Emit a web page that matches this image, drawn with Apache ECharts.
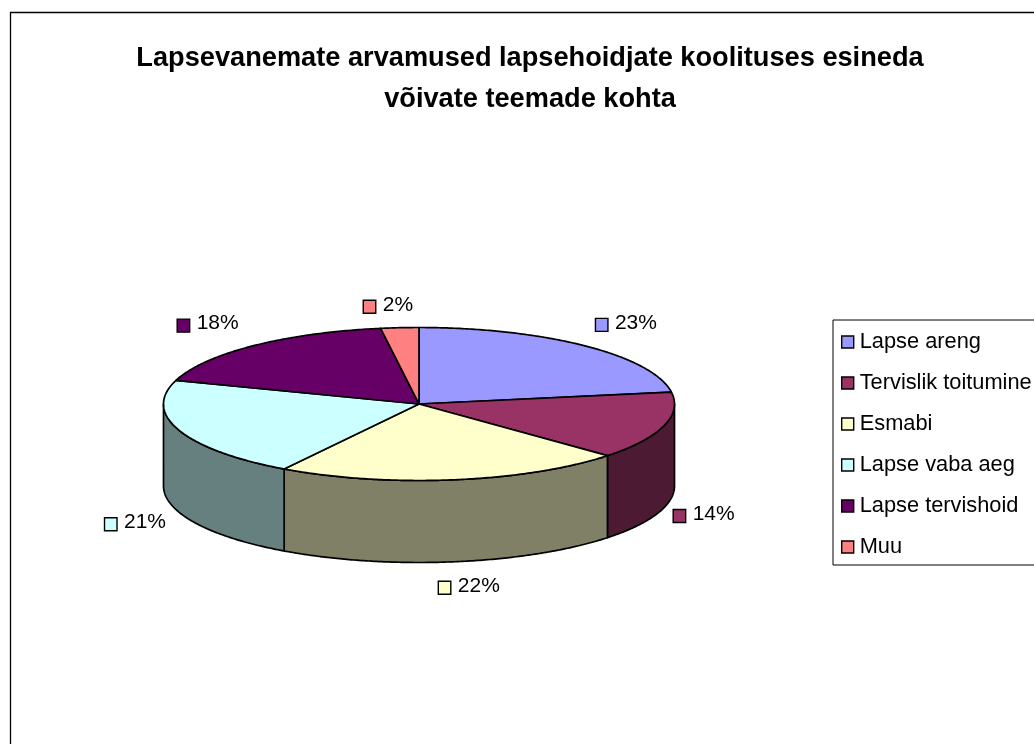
<!DOCTYPE html>
<html>
<head>
<meta charset="utf-8">
<style>html,body{margin:0;padding:0;background:#fff}#c{width:1034px;height:744px}</style>
<script src="https://cdn.jsdelivr.net/npm/echarts@6/dist/echarts.min.js"></script>
</head>
<body>
<div id="c"></div>
<script>
const categories = ['Lapse areng', 'Tervislik toitumine', 'Esmabi', 'Lapse vaba aeg', 'Lapse tervishoid', 'Muu'];
const values = [22.5, 14.3, 22.05, 21.15, 17.6, 2.4];
const topColors = ['#9999FF', '#993366', '#FFFFCC', '#CCFFFF', '#660066', '#FF8080'];
const sideColors = ['#4D4D80', '#4D1A33', '#808066', '#668080', '#330033', '#804040'];
const titleText = 'Lapsevanemate arvamused lapsehoidjate koolituses esineda\nvõivate teemade kohta';
// pie geometry
const CX = 419, CY = 404, RX = 255.5, RY = 76.5, DEPTH = 82;
// label nudges from the slice's outer-edge midpoint [dx, dy]
const labelNudges = [[30, -23], [29, 6], [4, 24], [-55, 10], [-57, -22], [-17, -23]];

const total = values.reduce((a, b) => a + b, 0);
const px = t => CX + RX * Math.sin(t);
const py = t => CY - RY * Math.cos(t);
const arc = (a, b, dy) => {
  const n = Math.max(2, Math.ceil(Math.abs(b - a) / 0.01));
  const pts = [];
  for (let i = 0; i <= n; i++) {
    const t = a + (b - a) * i / n;
    pts.push([px(t), py(t) + dy]);
  }
  return pts;
};
const edge = { stroke: '#000', lineWidth: 1.7, lineJoin: 'round' };

function sliceRenderer(idx) {
  let before = 0;
  for (let i = 0; i < idx; i++) before += values[i];
  const a = before / total * 2 * Math.PI;
  const b = (before + values[idx]) / total * 2 * Math.PI;
  return function () {
    const children = [];
    // visible side wall: only the front half of the rim
    const s = Math.max(a, Math.PI / 2), e = Math.min(b, Math.PI * 1.5);
    if (e > s) {
      children.push({
        type: 'polygon',
        shape: { points: arc(s, e, 0).concat(arc(e, s, DEPTH)) },
        style: Object.assign({ fill: sideColors[idx] }, edge)
      });
    }
    children.push({
      type: 'polygon',
      shape: { points: [[CX, CY]].concat(arc(a, b, 0)) },
      style: Object.assign({ fill: topColors[idx] }, edge)
    });
    const mid = (a + b) / 2;
    const front = Math.cos(mid) < 0;
    const lx = px(mid) + labelNudges[idx][0];
    const ly = py(mid) + (front ? DEPTH : 0) + labelNudges[idx][1];
    children.push({
      type: 'rect',
      shape: { x: lx - 19.5, y: ly - 4.5, width: 12.5, height: 13 },
      style: { fill: topColors[idx], stroke: '#000', lineWidth: 1.4 }
    });
    children.push({
      type: 'text',
      style: {
        x: lx, y: ly, text: Math.round(values[idx] / total * 100) + '%',
        font: '21px "Liberation Sans", Arial, sans-serif',
        fill: '#000', align: 'left', verticalAlign: 'middle'
      }
    });
    return { type: 'group', children };
  };
}

const chart = echarts.init(document.getElementById('c'), null, { renderer: 'canvas' });
chart.setOption({
  animation: false,
  backgroundColor: '#fff',
  title: {
    text: titleText,
    left: 525, top: 33, textAlign: 'center',
    textStyle: { fontFamily: '"Liberation Sans", Arial, sans-serif', fontWeight: 'bold', fontSize: 27.2, lineHeight: 41, color: '#000' }
  },
  legend: {
    orient: 'vertical', left: 833, top: 320,
    padding: [9, 40, 5, 8],
    data: categories.map(name => ({ name, icon: 'rect' })),
    itemWidth: 12, itemHeight: 12, itemGap: 15, align: 'left',
    backgroundColor: '#fff', borderColor: '#000', borderWidth: 1,
    selectedMode: false,
    itemStyle: { borderColor: '#000', borderWidth: 1.4 },
    textStyle: { fontFamily: '"Liberation Sans", Arial, sans-serif', fontSize: 21.8, color: '#000', lineHeight: 26, padding: [0, 0, 0, 1] }
  },
  graphic: [{
    type: 'rect', silent: true, z: -1,
    shape: { x: 10.5, y: 12.5, width: 1200, height: 900 },
    style: { fill: 'none', stroke: '#000', lineWidth: 1.3 }
  }],
  series: categories.map((name, i) => ({
    type: 'custom',
    name,
    coordinateSystem: 'none',
    silent: true,
    clip: false,
    z: 2 + i,
    itemStyle: { color: topColors[i] },
    data: [values[i]],
    renderItem: sliceRenderer(i)
  }))
});
</script>
</body>
</html>
